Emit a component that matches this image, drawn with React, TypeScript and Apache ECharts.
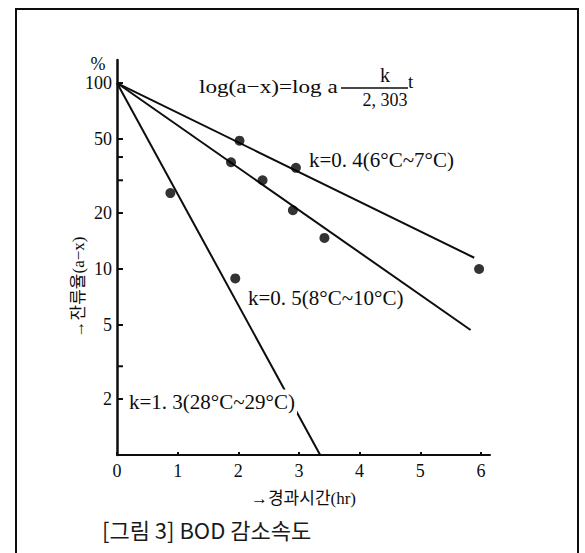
import React, { useEffect, useRef } from "react";
import * as echarts from "echarts";

// ---- data ----
const xTickValues = [0, 1, 2, 3, 4, 5, 6];
const yTickValues = [2, 3, 5, 10, 20, 30, 40, 50, 100];
const yLabelValues = [2, 5, 10, 20, 50, 100];

// observed points (hr, remaining %)
const obsK04 = [[2.02, 49], [2.95, 35], [5.97, 10]];
const obsK05 = [[1.88, 37.5], [2.4, 30], [2.9, 20.7], [3.42, 14.7]];
const obsK13 = [[0.88, 25.6], [1.95, 8.9]];

// fitted lines
const fitK04 = [[0, 100], [5.89, 11.5]];
const fitK05 = [[0, 100], [5.83, 4.7]];
const fitK13 = [[0, 100], [3.35, 1]];

const lineLabels = ["k=0. 4(6°C~7°C)", "k=0. 5(8°C~10°C)", "k=1. 3(28°C~29°C)"];

const SERIF = "'Liberation Serif','Noto Sans CJK KR',serif";
const INK = "#0d0d0d";

export default function App() {
  const ref = useRef<HTMLDivElement>(null);
  useEffect(() => {
    if (!ref.current) return;
    const chart = echarts.init(ref.current, null, { renderer: "svg" });
    const tickData = yTickValues.map((v) => [0, v, yLabelValues.includes(v) ? 1 : 0]);
    const lineStyle = { color: INK, width: 2 };
    const option: any = {
      animation: false,
      backgroundColor: "#fff",
      grid: { left: 117, right: 95, top: 60, bottom: 98, containLabel: false },
      xAxis: {
        type: "value",
        min: 0,
        max: 6.15,
        interval: 1,
        name: "→경과시간(hr)",
        nameLocation: "middle",
        nameGap: 35,
        nameTextStyle: { fontFamily: SERIF, fontSize: 17, color: INK },
        axisLine: { show: true, lineStyle: { color: INK, width: 2 } },
        axisTick: { show: true, inside: true, length: 3, customValues: xTickValues, lineStyle: { color: INK, width: 2 } },
        axisLabel: {
          customValues: xTickValues,
          margin: 7,
          fontFamily: SERIF,
          fontSize: 18,
          color: INK,
          formatter: (v: number) => (Number.isInteger(v) ? String(v) : ""),
        },
        splitLine: { show: false },
      },
      yAxis: {
        type: "log",
        logBase: 10,
        min: 1,
        max: 133,
        axisLine: { show: true, onZero: false, lineStyle: { color: INK, width: 2.5 } },
        axisTick: { show: false },
        axisLabel: { show: false },
        splitLine: { show: false },
        minorTick: { show: false },
      },
      graphic: [
        {
          type: "rect",
          z: 0,
          shape: { x: 16, y: 9, width: 562, height: 600 },
          style: { fill: "none", stroke: INK, lineWidth: 2 },
        },
        {
          type: "text",
          z: 100,
          x: 98,
          y: 64,
          style: { text: "%", fontFamily: SERIF, fontSize: 18, fill: INK, align: "center", verticalAlign: "middle" },
        },
        {
          type: "text",
          z: 100,
          x: 78,
          y: 287,
          rotation: Math.PI / 2,
          style: { text: "→잔류율(a−x)", fontFamily: SERIF, fontSize: 17, fill: INK, align: "center", verticalAlign: "middle" },
        },
        {
          type: "text",
          z: 100,
          x: 199,
          y: 87,
          scaleX: 1.22,
          style: { text: "log(a−x)=log a", fontFamily: SERIF, fontSize: 19, fill: INK, align: "left", verticalAlign: "middle" },
        },
        {
          type: "line",
          z: 100,
          shape: { x1: 341, y1: 88, x2: 408, y2: 88 },
          style: { stroke: INK, lineWidth: 1.4 },
        },
        {
          type: "text",
          z: 100,
          x: 385,
          y: 75,
          style: { text: "k", fontFamily: SERIF, fontSize: 20, fill: INK, align: "center", verticalAlign: "middle" },
        },
        {
          type: "text",
          z: 100,
          x: 385,
          y: 100,
          style: { text: "2, 303", fontFamily: SERIF, fontSize: 18, fill: INK, align: "center", verticalAlign: "middle" },
        },
        {
          type: "text",
          z: 100,
          x: 408,
          y: 81,
          style: { text: "t", fontFamily: SERIF, fontSize: 19, fill: INK, align: "left", verticalAlign: "middle" },
        },
        {
          type: "text",
          z: 100,
          x: 309,
          y: 160,
          style: { text: lineLabels[0], fontFamily: SERIF, fontSize: 21, fill: INK, align: "left", verticalAlign: "middle" },
        },
        {
          type: "text",
          z: 100,
          x: 248,
          y: 298,
          style: { text: lineLabels[1], fontFamily: SERIF, fontSize: 21, fill: INK, align: "left", verticalAlign: "middle" },
        },
        {
          type: "text",
          z: 100,
          x: 127,
          y: 402,
          style: {
            text: lineLabels[2],
            fontFamily: SERIF,
            fontSize: 21,
            fill: INK,
            align: "left",
            verticalAlign: "middle",
            backgroundColor: "#fff",
            padding: [2, 2, 2, 2],
          },
        },
        {
          type: "text",
          z: 100,
          x: 102,
          y: 529,
          style: {
            text: "[그림 3] BOD 감소속도",
            fontFamily: "'Noto Sans CJK KR',sans-serif",
            fontSize: 22,
            fill: "#1a1a1a",
            align: "left",
            verticalAlign: "middle",
          },
        },
      ],
      series: [
        { type: "line", data: fitK04, showSymbol: false, lineStyle, z: 2 },
        { type: "line", data: fitK05, showSymbol: false, lineStyle, z: 2 },
        { type: "line", data: fitK13, showSymbol: false, lineStyle, z: 2 },
        { type: "scatter", data: obsK04, symbolSize: 10, itemStyle: { color: "#000" }, z: 3 },
        { type: "scatter", data: obsK05, symbolSize: 10, itemStyle: { color: "#000" }, z: 3 },
        { type: "scatter", data: obsK13, symbolSize: 10, itemStyle: { color: "#000" }, z: 3 },
        {
          type: "custom",
          data: tickData,
          clip: false,
          z: 5,
          renderItem: (_params: any, api: any) => {
            const v = api.value(1);
            const p = api.coord([0, v]);
            const children: any[] = [
              { type: "line", shape: { x1: p[0], y1: p[1], x2: p[0] + 6, y2: p[1] }, style: { stroke: INK, lineWidth: 2 } },
            ];
            if (api.value(2)) {
              children.push({
                type: "text",
                x: p[0] - 5,
                y: p[1],
                style: { text: String(v), fontFamily: SERIF, fontSize: 18, fill: INK, align: "right", verticalAlign: "middle" },
              });
            }
            return { type: "group", children };
          },
        },
      ],
    };
    chart.setOption(option);
    return () => chart.dispose();
  }, []);
  return (
    <div
      ref={ref}
      style={{ position: "fixed", left: 0, top: 0, width: 585, height: 553, background: "#fff" }}
    />
  );
}
